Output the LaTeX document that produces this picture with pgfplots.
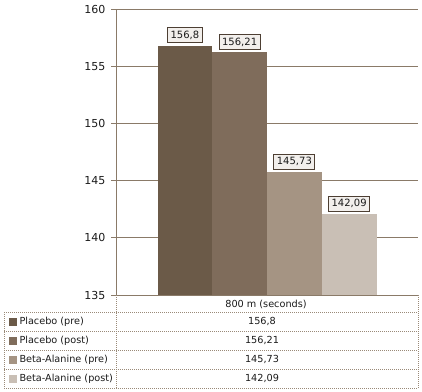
\documentclass[border=0pt]{standalone}
\usepackage{fontspec}
\setmainfont{DejaVu Sans}
\usepackage{pgfplots}
\pgfplotsset{compat=1.18}
\definecolor{cA}{HTML}{6B5A48}
\definecolor{cB}{HTML}{7F6C5B}
\definecolor{cC}{HTML}{A59483}
\definecolor{cD}{HTML}{C9BFB5}
\definecolor{gridc}{HTML}{8A7A68}
\definecolor{boxfill}{HTML}{F2EFEC}
\definecolor{boxdraw}{HTML}{4D3F33}
\definecolor{tabc}{HTML}{9A8A78}
\definecolor{txt}{HTML}{1A1A1A}
\newcommand{\tabfont}{\fontsize{9.7}{11}\selectfont}
\pgfplotsset{sq/.style={legend image code/.code={\fill[##1,draw=none] (0pt,-4pt) rectangle (8pt,4pt);}}}
\begin{document}
\begin{tikzpicture}[x=1pt,y=1pt]
\path (0,0) rectangle (422,391);
\begin{axis}[
  at={(116pt,96pt)}, anchor=south west,
  scale only axis, width=302pt, height=286pt,
  xmin=-0.5, xmax=0.5, ymin=135, ymax=160,
  ytick={135,140,...,160}, xtick=\empty,
  axis lines*=left,
  axis line style={draw=gridc, line width=0.8pt},
  ymajorgrids, grid style={draw=gridc, line width=0.8pt},
  tick style={draw=gridc, line width=0.8pt},
  tick align=outside, major tick length=5pt,
  yticklabel style={font=\fontsize{11}{12}\selectfont, text=txt, anchor=east, inner sep=0pt, xshift=-5.5pt},
  /pgf/number format/assume math mode=true,
  /pgf/number format/use comma,
  ybar=0pt, bar width=54.75pt,
  nodes near coords,
  every node near coord/.append style={font=\fontsize{10}{11}\selectfont, text=txt, fill=boxfill, draw=boxdraw, line width=0.8pt, inner xsep=3pt, inner ysep=3.2pt, anchor=south, yshift=2.5pt, /pgf/number format/assume math mode=true, /pgf/number format/use comma},
  legend style={at={(axis description cs:-0.35265,-0.05944)}, anchor=north west, draw=none, fill=none, inner sep=0pt, outer sep=0pt, row sep=0pt, font=\tabfont, text=txt, nodes={inner xsep=2pt, inner ysep=0pt, outer sep=0pt, minimum height=19pt, anchor=west}},
]
\addplot[fill=cA, draw=none, sq] coordinates {(0,156.8)};
\addplot[fill=cB, draw=none, sq] coordinates {(0,156.21)};
\addplot[fill=cC, draw=none, sq] coordinates {(0,145.73)};
\addplot[fill=cD, draw=none, sq] coordinates {(0,142.09)};
\legend{Placebo (pre),Placebo (post),Beta-Alanine (pre),Beta-Alanine (post)}
\end{axis}
% data table grid
\begin{scope}[draw=tabc, line width=0.8pt, dash pattern=on 1pt off 1pt]
\draw (116,96) -- (116,3);
\draw (418,96) -- (418,3);
\draw (4,79) -- (4,3);
\foreach \yy in {79,60,41,22,3} {\draw (4,\yy) -- (418,\yy);}
\end{scope}
\begin{scope}[every node/.style={font=\tabfont, text=txt, inner sep=0pt}]
\node at (266,87) {800 m (seconds)};
\node at (262,69.5) {156,8};
\node at (262,50.5) {156,21};
\node at (262,31.5) {145,73};
\node at (262,12.5) {142,09};
\end{scope}
\end{tikzpicture}
\end{document}
